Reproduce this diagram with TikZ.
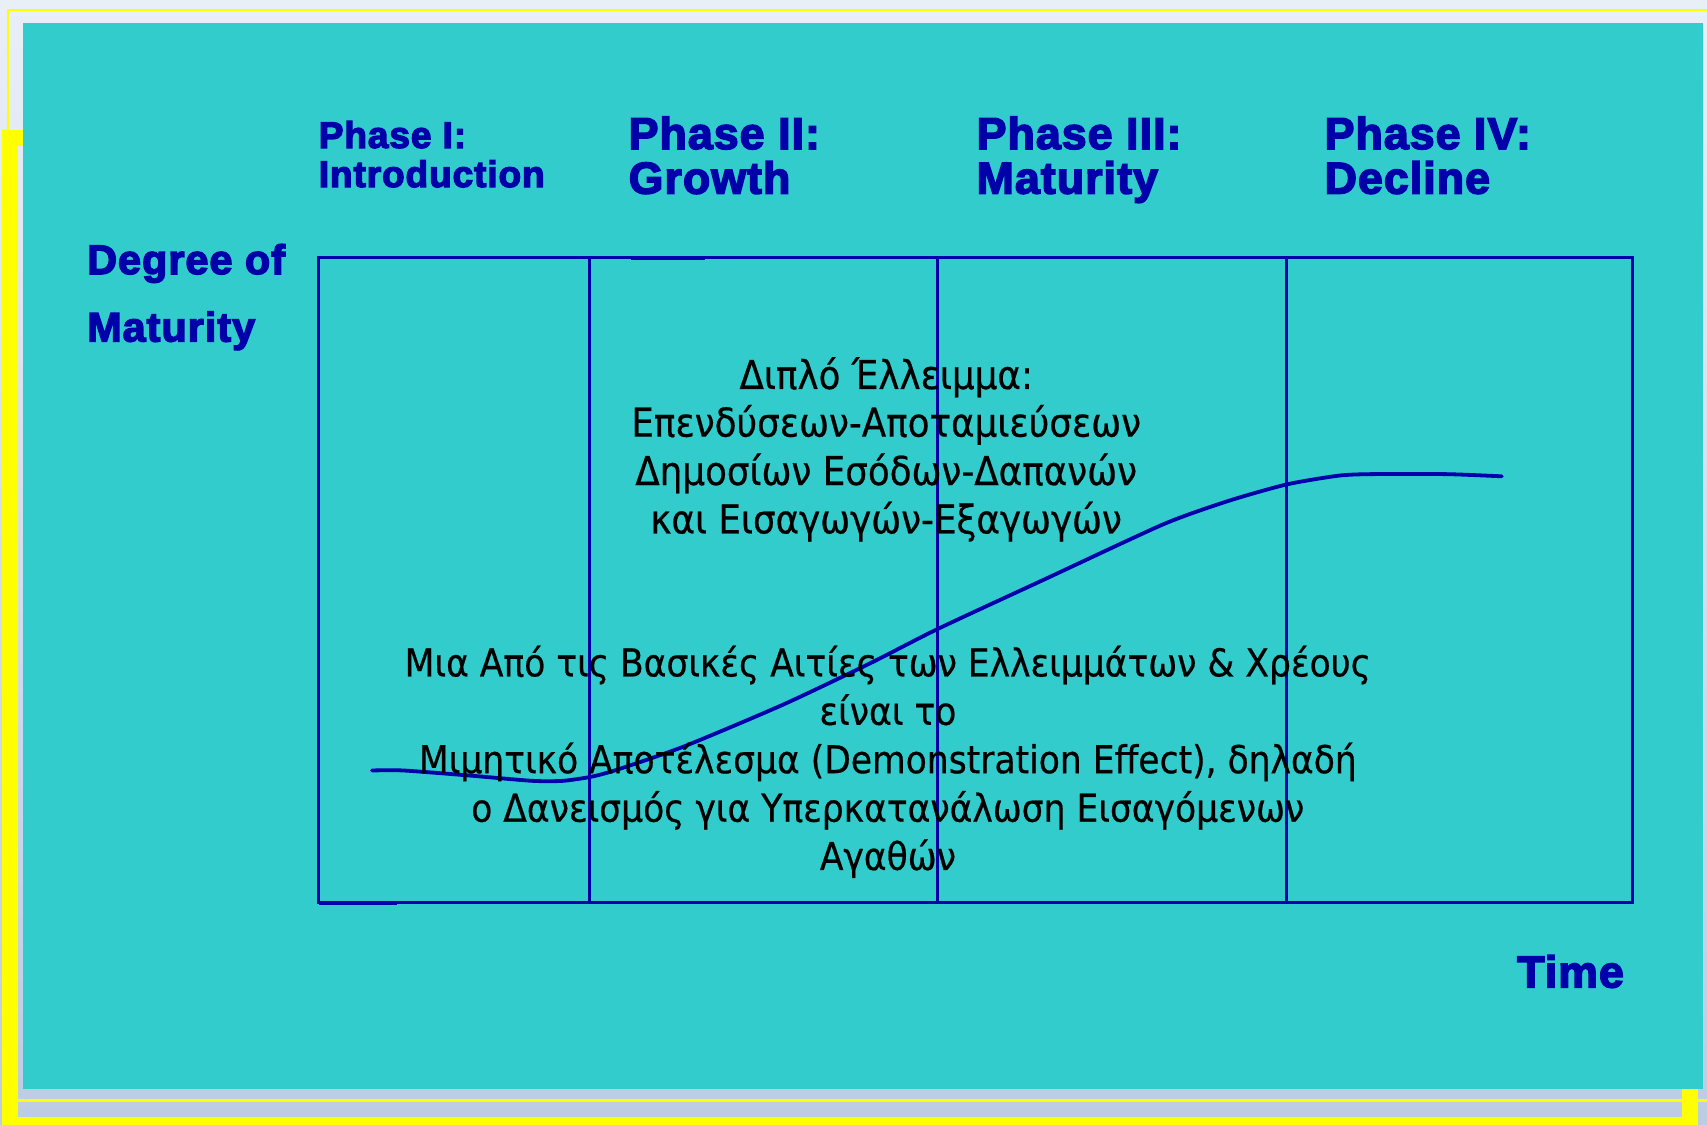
\documentclass[tikz,border=0pt]{standalone}
\usepackage{fontspec}
\setmainfont{DejaVu Sans}
\newfontfamily\labfont[FakeBold=3.5,LetterSpace=2.5]{Liberation Sans Bold}
\newfontfamily\grfont[FakeBold=0.5]{DejaVu Sans Condensed}
\definecolor{cyanbg}{HTML}{33CCCC}
\definecolor{lineblue}{HTML}{0000AA}
\definecolor{textblue}{HTML}{0000A8}
\definecolor{yell}{HTML}{FFFF00}
\definecolor{bgtop}{HTML}{E9EFF7}
\definecolor{bgbot}{HTML}{BCCCE3}
\tikzset{
  lab/.style={inner sep=0pt, text=textblue, font=\labfont\fontsize{41}{41}\selectfont, anchor=base west},
  labsmall/.style={lab, font=\labfont\fontsize{34}{34}\selectfont},
  labmid/.style={lab, font=\labfont\fontsize{38}{38}\selectfont},
  gr/.style={inner sep=0pt, text=black, font=\grfont\fontsize{36.5}{36.5}\selectfont, anchor=base},
  grb/.style={gr, font=\grfont\fontsize{35.3}{35.3}\selectfont},
  grid/.style={draw=lineblue, line width=2.8pt},
  curve/.style={draw=lineblue, line width=3.5pt, line join=round, line cap=round},
}
\begin{document}
\begin{tikzpicture}[x=1pt,y=-1pt]
\useasboundingbox (0,0) rectangle (1569.7,1034.5);
% background
\shade[top color=bgtop, bottom color=bgbot] (0,0) rectangle (1569.7,1034.5);
% yellow frame
\draw[yell, line width=2pt] (7.4,119.5) -- (7.4,9.2) -- (1569.7,9.2);
\draw[yell, line width=2pt] (16.2,1012) -- (1569.7,1012);
\fill[yell] (1.8,119.5) rectangle (21.1,134.3);
\fill[yell] (1.8,119.5) rectangle (16.2,1034.5);
\fill[yell] (1.8,1027) rectangle (1546.7,1034.5);
\fill[yell] (1546.7,1001.4) rectangle (1561.4,1034.5);
% cyan panel
\fill[cyanbg] (21.1,21.1) rectangle (1566,1001.4);
% grid
\coordinate (tl) at (293,237);
\coordinate (br) at (1501,830);
\draw[grid] (tl) rectangle (br);
\coordinate (v1t) at (542,237); \coordinate (v1b) at (542,830);
\coordinate (v2t) at (862,237); \coordinate (v2b) at (862,830);
\coordinate (v3t) at (1183,237); \coordinate (v3b) at (1183,830);
\draw[grid] (v1t) -- (v1b);
\draw[grid] (v2t) -- (v2b);
\draw[grid] (v3t) -- (v3b);
\coordinate (s1a) at (580,237.5); \coordinate (s1b) at (648,237.5);
\draw[draw=lineblue, line width=3.6pt] (s1a) -- (s1b);
\coordinate (s2a) at (293,830.5); \coordinate (s2b) at (365,830.5);
\draw[draw=lineblue, line width=3.6pt] (s2a) -- (s2b);
% curve
\draw[curve] plot[smooth, tension=0.4] coordinates {
 (342,708.5) (371,708.5) (430,713) (489,718) (518,718) (545,714)
 (570,707) (630,686) (720,648) (800,610) (862,578.5)
 (960,533) (1070,482) (1130,460.5) (1183,445.5) (1230,437.5)
 (1260,436) (1330,436) (1381,438)};
% phase labels
\node[labsmall] (p1a) at (293,136) {Phase I:};
\node[labsmall] (p1b) at (293,172) {Introduction};
\node[lab] (p2a) at (578,137) {Phase II:};
\node[lab] (p2b) at (578,178) {Growth};
\node[lab] (p3a) at (898,137) {Phase III:};
\node[lab] (p3b) at (898,178) {Maturity};
\node[lab] (p4a) at (1218,137) {Phase IV:};
\node[lab] (p4b) at (1218,178) {Decline};
\node[labmid] (ya) at (80,252) {Degree of};
\node[labmid] (yb) at (80,314) {Maturity};
\node[lab] (xl) at (1395,908) {Time};
% greek text block 1
\node[gr] (g1) at (815,357.7) {Διπλό Έλλειμμα:};
\node[gr] (g2) at (815,401.5) {Επενδύσεων-Αποταμιεύσεων};
\node[gr] (g3) at (815,446) {Δημοσίων Εσόδων-Δαπανών};
\node[gr] (g4) at (815,490.5) {και Εισαγωγών-Εξαγωγών};
% greek text block 2
\node[grb] (h1) at (816.5,622) {Μια Από τις Βασικές Αιτίες των Ελλειμμάτων \& Χρέους};
\node[grb] (h2) at (816.5,666.5) {είναι το};
\node[grb] (h3) at (816.5,711) {Μιμητικό Αποτέλεσμα (Demonstration Effect), δηλαδή};
\node[grb] (h4) at (816.5,755.6) {ο Δανεισμός για Υπερκατανάλωση Εισαγόμενων};
\node[grb] (h5) at (816.5,800) {Αγαθών};
\end{tikzpicture}
\end{document}
